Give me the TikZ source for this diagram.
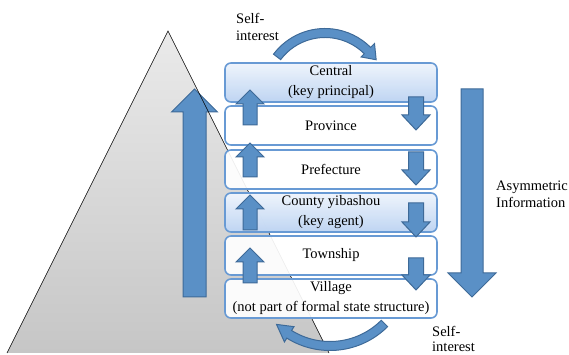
\documentclass[tikz,border=0pt]{standalone}
\usepackage{fontspec}
\setmainfont{Liberation Serif}
\definecolor{boxline}{RGB}{104,154,212}
\definecolor{keytop}{RGB}{238,244,252}
\definecolor{keybot}{RGB}{186,210,242}
\definecolor{arrowfill}{RGB}{90,144,198}
\definecolor{arrowline}{RGB}{62,106,152}
\definecolor{pyrtop}{RGB}{234,234,234}
\definecolor{pyrbot}{RGB}{198,198,198}
\newcommand\BlockArrow[6]{\draw[barrow] ({#1-#4},{#2}) -- ({#1-#4},{#3-(#6)}) -- ({#1-#5},{#3-(#6)}) -- ({#1},{#3}) -- ({#1+#5},{#3-(#6)}) -- ({#1+#4},{#3-(#6)}) -- ({#1+#4},{#2}) -- cycle;}
\begin{document}
\begin{tikzpicture}[x=1pt,y=1pt,
 lvl/.style={draw=boxline, line width=1.6pt, rounded corners=6pt, minimum width=212pt, minimum height=39pt, align=center, fill=white, fill opacity=0.92, text opacity=1, font=\fontsize{14.5}{20}\selectfont, inner sep=0pt},
 keylvl/.style={lvl, top color=keytop, bottom color=keybot},
 barrow/.style={fill=arrowfill, draw=arrowline, line width=1pt, line join=miter},
 lbl/.style={font=\fontsize{14.5}{17}\selectfont, align=left, inner sep=0pt, anchor=west}]
\useasboundingbox (0,0) rectangle (569,355);
% pyramid
\shade[top color=pyrtop, bottom color=pyrbot] (7,2) -- (168,324) -- (329,2) -- cycle;
% big up arrow
\BlockArrow{194.5}{58}{266}{11.5}{23}{23}
\draw[line width=0.6pt] (7,2) -- (168,324) -- (329,2);
% levels
\node[keylvl] (central) at (331,272.5) {Central\\(key principal)};
\node[lvl] (province) at (331,229.5) {Province};
\node[lvl] (prefecture) at (331,185.5) {Prefecture};
\node[keylvl] (county) at (331,142.5) {County yibashou\\(key agent)};
\node[lvl] (township) at (331,99.5) {Township};
\node[lvl] (village) at (331,56.5) {Village\\(not part of formal state structure)};
% small up arrows
\BlockArrow{250}{230}{265}{7}{14}{14}
\BlockArrow{250}{178}{212}{7}{14}{14}
\BlockArrow{250}{125}{160}{7}{14}{14}
\BlockArrow{250}{72}{107}{7}{14}{14}
% small down arrows
\BlockArrow{416}{258}{225}{7.5}{14}{-15}
\BlockArrow{416}{203}{170}{7.5}{14}{-15}
\BlockArrow{416}{152}{118}{7.5}{14}{-15}
\BlockArrow{416}{97}{65}{7.5}{14}{-15}
% big down arrow
\BlockArrow{472}{266}{58}{11}{24}{-24}
% curved arrows
\begin{scope}[shift={(325,262)}]
\draw[barrow] (143:64.5) arc[start angle=143,end angle=45,radius=64.5] -- (45:70) -- (33:61) -- (45:51) -- (45:55.5) arc[start angle=45,end angle=143,radius=55.5] -- cycle;
\end{scope}
\begin{scope}[shift={(330,86)}]
\draw[barrow] (-45:81.5) arc[start angle=-45,end angle=-122,radius=81.5] -- (-122:86) -- (-134:77) -- (-122:68) -- (-122:72.5) arc[start angle=-122,end angle=-45,radius=72.5] -- cycle;
\end{scope}
% labels
\node[lbl] (selftop) at (236,328.5) {Self-\\interest};
\node[lbl, font=\fontsize{14.5}{15.5}\selectfont, anchor=south west] (selfbot) at (432,3) {Self-\\interest};
\node[lbl] (asym) at (496,161) {Asymmetric\\Information};
\end{tikzpicture}
\end{document}
